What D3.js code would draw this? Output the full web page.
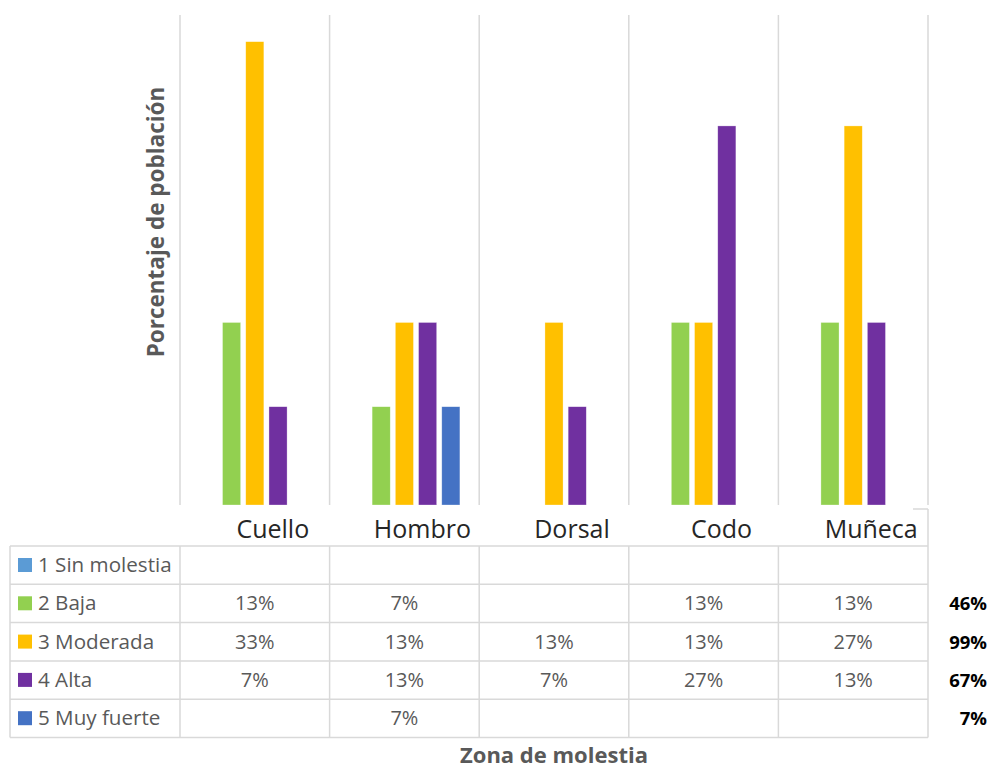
<!DOCTYPE html>
<html>
<head>
<meta charset="utf-8">
<script src="https://cdn.jsdelivr.net/npm/d3@7"></script>
<style>
  html, body { margin: 0; padding: 0; background: #fff; }
  svg { display: block; font-family: "Open Sans", "Noto Sans", sans-serif; }
</style>
</head>
<body>
<svg id="chart" width="994" height="769"></svg>
<script>
// Body zones and discomfort levels (percent of population)
const categories = ["Cuello", "Hombro", "Dorsal", "Codo", "Muñeca"];
const seriesNames = ["1 Sin molestia", "2 Baja", "3 Moderada", "4 Alta", "5 Muy fuerte"];
const seriesColors = ["#5B9BD5", "#92D050", "#FFC000", "#7030A0", "#4472C4"];
const sinMolestia = [null, null, null, null, null];
const baja        = [13, 7, null, 13, 13];
const moderada    = [33, 13, 13, 13, 27];
const alta        = [7, 13, 7, 27, 13];
const muyFuerte   = [null, 7, null, null, null];
const seriesValues = [sinMolestia, baja, moderada, alta, muyFuerte];
const yMax = 34.9;

const svg = d3.select("#chart");
const plot = { left: 180, right: 928, top: 15, bottom: 505 };
const table = { left: 10, top: 546, rowH: 38.3 };

const x = d3.scaleBand().domain(categories).range([plot.left, plot.right]).padding(0);
const xInner = d3.scaleBand().domain(seriesNames).range([-55.5, 55.5]).paddingInner(0.22).paddingOuter(0);
const y = d3.scaleLinear().domain([0, yMax]).range([plot.bottom, plot.top]);

const gridColor = "#d9d9d9";

// Vertical category gridlines
const boundaries = categories.map(c => x(c)).concat([plot.right]);
svg.append("g").selectAll("line").data(boundaries).join("line")
  .attr("x1", d => d).attr("x2", d => d)
  .attr("y1", plot.top).attr("y2", plot.bottom)
  .attr("stroke", gridColor).attr("stroke-width", 1.5);

// Bars
const barData = [];
seriesNames.forEach((s, si) => {
  categories.forEach((c, ci) => {
    const v = seriesValues[si][ci];
    if (v != null) barData.push({ s, c, v, color: seriesColors[si] });
  });
});
svg.append("g").selectAll("rect").data(barData).join("rect")
  .attr("x", d => x(d.c) + x.bandwidth() / 2 + xInner(d.s))
  .attr("width", xInner.bandwidth())
  .attr("y", d => y(d.v))
  .attr("height", d => y(0) - y(d.v))
  .attr("fill", d => d.color)
  .attr("stroke", "#fff").attr("stroke-opacity", 0.5).attr("stroke-width", 0.6);

// Category header row
svg.append("g").selectAll("text").data(categories).join("text")
  .attr("x", d => x(d) + x.bandwidth() / 2 + 18)
  .attr("y", 538)
  .attr("text-anchor", "middle")
  .attr("font-size", 25)
  .attr("fill", "#262626")
  .text(d => d);
svg.append("line").attr("x1", plot.right).attr("x2", plot.right).attr("y1", 509).attr("y2", table.top)
  .attr("stroke", gridColor).attr("stroke-width", 1.5);
svg.append("line").attr("x1", 913).attr("x2", plot.right).attr("y1", 509).attr("y2", 509)
  .attr("stroke", gridColor).attr("stroke-width", 1.5);

// Data table grid
const tableBottom = table.top + table.rowH * seriesNames.length;
const tg = svg.append("g");
tg.selectAll("line.h").data(d3.range(seriesNames.length + 1)).join("line")
  .attr("class", "h")
  .attr("x1", table.left).attr("x2", plot.right)
  .attr("y1", i => table.top + i * table.rowH).attr("y2", i => table.top + i * table.rowH)
  .attr("stroke", gridColor).attr("stroke-width", 1.5);
tg.selectAll("line.v").data([table.left].concat(boundaries)).join("line")
  .attr("class", "v")
  .attr("x1", d => d).attr("x2", d => d)
  .attr("y1", table.top).attr("y2", tableBottom)
  .attr("stroke", gridColor).attr("stroke-width", 1.5);

// Legend keys and series names
const rows = svg.append("g").selectAll("g").data(seriesNames).join("g")
  .attr("transform", (d, i) => `translate(0,${table.top + i * table.rowH})`);
rows.append("rect")
  .attr("x", 18).attr("y", 12).attr("width", 14).attr("height", 14)
  .attr("fill", (d, i) => seriesColors[i]);
rows.append("text")
  .attr("x", 38).attr("y", 26)
  .attr("font-size", 20.6).attr("fill", "#595959")
  .text(d => d);

// Cell values
rows.each(function(s, si) {
  d3.select(this).selectAll("text.val")
    .data(categories.map((c, ci) => ({ c, v: seriesValues[si][ci] })).filter(d => d.v != null))
    .join("text")
    .attr("class", "val")
    .attr("x", d => x(d.c) + x.bandwidth() / 2)
    .attr("y", 26)
    .attr("text-anchor", "middle")
    .attr("font-size", 20).attr("fill", "#595959")
    .text(d => d.v + "%");
});

// Row totals
rows.append("text")
  .attr("x", 987).attr("y", 26)
  .attr("text-anchor", "end")
  .attr("font-size", 18.5).attr("font-weight", "bold").attr("fill", "#000")
  .text((s, si) => {
    const t = d3.sum(seriesValues[si].filter(v => v != null));
    return t > 0 ? t + "%" : "";
  });

// Axis titles
svg.append("text")
  .attr("x", (plot.left + plot.right) / 2).attr("y", 763)
  .attr("text-anchor", "middle")
  .attr("font-size", 22).attr("font-weight", "bold").attr("fill", "#595959")
  .text("Zona de molestia");
svg.append("text")
  .attr("transform", "translate(164,222) rotate(-90)")
  .attr("text-anchor", "middle")
  .attr("font-size", 22.5).attr("font-weight", "bold").attr("fill", "#595959")
  .text("Porcentaje de población");
</script>
</body>
</html>
